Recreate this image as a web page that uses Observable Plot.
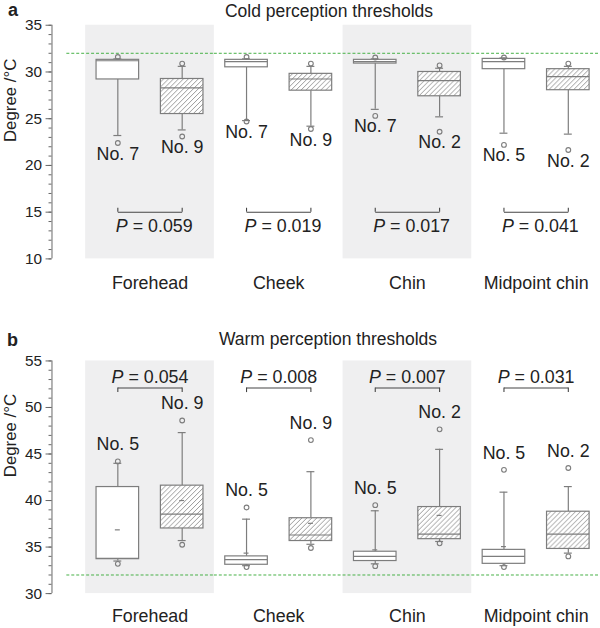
<!DOCTYPE html>
<html><head><meta charset="utf-8">
<script src="https://cdn.jsdelivr.net/npm/d3@7"></script>
<script src="https://cdn.jsdelivr.net/npm/@observablehq/plot@0.6"></script>
<style>
html,body{margin:0;padding:0;background:#fff;overflow:hidden}
#wrap{position:relative;width:600px;height:628px;overflow:hidden;font-family:'Liberation Sans',Arial,sans-serif;color:#222}
.pl{position:absolute;left:0}
.tag{position:absolute;font-weight:bold;font-size:18px;line-height:18px}
.ttl{position:absolute;font-size:17.5px;line-height:18px;width:600px;text-align:center}
</style></head><body>
<div id="wrap">
  <div id="pa" class="pl" style="top:0"></div>
  <div id="pb" class="pl" style="top:305px"></div>
  <div class="tag" style="left:8px;top:1px">a</div>
  <div class="ttl" style="left:29px;top:2px">Cold perception thresholds</div>
  <div class="tag" style="left:7px;top:331px">b</div>
  <div class="ttl" style="left:28px;top:330px">Warm perception thresholds</div>
</div>
<script>
// ---------- data ----------
const regions = ["Forehead", "Cheek", "Chin", "Midpoint chin"];
const groups = ["open", "hatched"];
const shadedRegions = ["Forehead", "Chin"];
const referenceTemp = 32;
const yLabel = "Degree /°C";

// order: Forehead open, Forehead hatched, Cheek open, Cheek hatched, Chin open, Chin hatched, Midpoint open, Midpoint hatched
const coldQ1 = [29.2, 25.5, 30.5, 28.0, 30.9, 27.4, 30.3, 28.05];
const coldMedian = [31.2, 28.3, 31.1, 29.25, 31.1, 29.07, 31.1, 29.5];
const coldQ3 = [31.3, 29.25, 31.3, 29.8, 31.3, 30.0, 31.4, 30.3];
const coldWhiskerLow = [23.2, 23.8, 24.8, 24.2, 26.0, 25.2, 23.45, 23.35];
const coldWhiskerHigh = [31.4, 30.6, 31.4, 30.6, 31.4, 30.4, 31.5, 30.6];
const coldOutlierLow = [22.4, 23.1, 24.7, 23.9, 25.3, 23.6, 22.2, 21.65];
const coldOutlierHigh = [31.6, 30.9, 31.6, 30.9, 31.55, 30.7, 31.55, 30.9];
const coldOutlierId = [7, 9, 7, 9, 7, 2, 5, 2];
const coldP = ["0.059", "0.019", "0.017", "0.041"];
const coldBracket = 15;

const warmQ1 = [33.7, 37.0, 33.1, 35.65, 33.5, 35.85, 33.2, 34.8];
const warmMedian = [33.8, 38.55, 33.65, 36.3, 34.0, 36.4, 34.0, 36.4];
const warmQ3 = [41.45, 41.6, 34.0, 38.1, 34.5, 39.3, 34.7, 38.8];
const warmMean = [36.85, 40.0, 34.35, 37.55, 34.7, 38.4, 35.05, null];
const warmWhiskerLow = [33.5, 35.7, 33.0, 35.3, 33.2, 35.6, 33.0, 34.35];
const warmWhiskerHigh = [44.0, 47.3, 38.0, 43.1, 38.9, 45.5, 40.9, 41.5];
const warmOutlierLow = [33.2, 35.25, 32.85, 34.9, 32.95, 35.4, 32.85, 34.0];
const warmOutlierHigh = [44.2, 48.6, 39.25, 46.5, 39.5, 47.65, 43.3, 43.5];
const warmOutlierId = [5, 9, 5, 9, 5, 2, 5, 2];
const warmP = ["0.054", "0.008", "0.007", "0.031"];
const warmBracket = 52.1;

// ---------- build tables ----------
function boxRows(q1, med, q3, wlo, whi, olo, ohi, ids, mean) {
  return regions.flatMap((r, i) => groups.map((g, j) => {
    const k = i * 2 + j;
    return {region: r, group: g, q1: q1[k], median: med[k], q3: q3[k], wlo: wlo[k], whi: whi[k],
            olo: olo[k], ohi: ohi[k], id: ids[k], mean: mean ? mean[k] : null};
  }));
}
const cold = boxRows(coldQ1, coldMedian, coldQ3, coldWhiskerLow, coldWhiskerHigh, coldOutlierLow, coldOutlierHigh, coldOutlierId, null);
const warm = boxRows(warmQ1, warmMedian, warmQ3, warmWhiskerLow, warmWhiskerHigh, warmOutlierLow, warmOutlierHigh, warmOutlierId, warmMean);
const coldPRows = regions.map((r, i) => ({region: r, p: coldP[i], y: coldBracket}));
const warmPRows = regions.map((r, i) => ({region: r, p: warmP[i], y: warmBracket}));

const GRAY = "#7d7d7d";
const INK = "#222";
const GREEN = "#45b045";

function panel(o) {
  const {data, pRows, yDomain, height, marginTop, marginBottom, hatchId, labelBelow, pBelow, fxPad, tickDir} = o;
  const open = data.filter(d => d.group === "open");
  const hat = data.filter(d => d.group === "hatched");
  const boxInset = 11, capInset = 28.5, meanInset = 30;
  const marks = [
    Plot.rect(shadedRegions, {fx: d => d, fill: "#efeff0"}),
    Plot.ruleY([referenceTemp], {fx: () => regions[0], y: d => d, stroke: GREEN, strokeWidth: 1, strokeDasharray: "3,2", insetLeft: -19}),
    Plot.ruleY(regions.slice(1), {fx: d => d, y: () => referenceTemp, stroke: GREEN, strokeWidth: 1, strokeDasharray: "3,2"}),
    // whiskers
    Plot.ruleX(data, {fx: "region", x: "group", y1: "q3", y2: "whi", stroke: GRAY, strokeWidth: 1.2}),
    Plot.ruleX(data, {fx: "region", x: "group", y1: "wlo", y2: "q1", stroke: GRAY, strokeWidth: 1.2}),
    Plot.tickY(data, {fx: "region", x: "group", y: "whi", stroke: GRAY, strokeWidth: 1.2, insetLeft: capInset, insetRight: capInset}),
    Plot.tickY(data, {fx: "region", x: "group", y: "wlo", stroke: GRAY, strokeWidth: 1.2, insetLeft: capInset, insetRight: capInset}),
    // boxes
    Plot.barY(open, {fx: "region", x: "group", y1: "q1", y2: "q3", fill: "white", stroke: GRAY, strokeWidth: 1.2, insetLeft: boxInset, insetRight: boxInset}),
    Plot.barY(hat, {fx: "region", x: "group", y1: "q1", y2: "q3", fill: `url(#${hatchId})`, stroke: GRAY, strokeWidth: 1.2, insetLeft: boxInset, insetRight: boxInset}),
    Plot.tickY(data, {fx: "region", x: "group", y: "median", stroke: GRAY, strokeWidth: 1.2, insetLeft: boxInset, insetRight: boxInset}),
    Plot.tickY(data.filter(d => d.mean != null), {fx: "region", x: "group", y: "mean", stroke: GRAY, strokeWidth: 1.2, insetLeft: meanInset, insetRight: meanInset}),
    // outliers
    Plot.dot(data, {fx: "region", x: "group", y: "olo", r: 2.4, stroke: GRAY, strokeWidth: 1.1, fill: "none"}),
    Plot.dot(data, {fx: "region", x: "group", y: "ohi", r: 2.4, stroke: GRAY, strokeWidth: 1.1, fill: "none"}),
    // outlier subject labels
    labelBelow
      ? Plot.text(data, {fx: "region", x: "group", y: "olo", text: d => "No. " + d.id, dy: 11, fontSize: 18, fill: INK})
      : Plot.text(data, {fx: "region", x: "group", y: "ohi", text: d => "No. " + d.id, dy: -17, fontSize: 18, fill: INK}),
    // brackets
    Plot.link(pRows, {fx: "region", x1: () => groups[0], x2: () => groups[1], y1: "y", y2: "y", stroke: "#444", strokeWidth: 1.1}),
    Plot.ruleX(pRows.flatMap(d => groups.map(g => ({...d, g}))), {fx: "region", x: "g", y1: "y", y2: d => d.y + tickDir, stroke: "#444", strokeWidth: 1.1}),
    // axes
    Plot.ruleX([regions[0]], {fx: d => d, x: () => groups[0], y1: () => yDomain[0], y2: () => yDomain[1], dx: -66.5, stroke: "#666", strokeWidth: 1}),
    Plot.axisY({ticks: d3.range(yDomain[0], yDomain[1] + 1, 1), tickSize: 3, tickFormat: () => "", dx: -34, stroke: "#666"}),
    Plot.axisY({ticks: d3.range(yDomain[0], yDomain[1] + 1, 5), tickSize: 6, tickPadding: 4, dx: -34, fontSize: 15.5, stroke: "#666", fill: INK, label: null}),
    Plot.text([yLabel], {fx: () => regions[0], frameAnchor: "left", rotate: -90, dx: -76, fontSize: 17, fill: INK}),
    Plot.axisFx({anchor: "bottom", tickSize: 0, tickPadding: fxPad, fontSize: 18, fill: INK, label: null})
  ];
  if (pBelow) {
    marks.push(Plot.text(pRows, {fx: "region", x: () => groups[0], y: "y", text: () => "P", fontStyle: "italic", textAnchor: "start", dx: -2, dy: 14, fontSize: 18, fill: INK}));
    marks.push(Plot.text(pRows, {fx: "region", x: () => groups[0], y: "y", text: d => "= " + d.p, textAnchor: "start", dx: 15, dy: 14, fontSize: 18, fill: INK}));
  } else {
    marks.push(Plot.text(pRows, {fx: "region", y: "y", text: () => "P", fontStyle: "italic", textAnchor: "start", dx: -38.8, dy: -11, fontSize: 18, fill: INK}));
    marks.push(Plot.text(pRows, {fx: "region", y: "y", text: d => "= " + d.p, textAnchor: "start", dx: -21.8, dy: -11, fontSize: 18, fill: INK}));
  }
  const svg = Plot.plot({
    width: 606, height, marginLeft: 86, marginRight: 0, marginTop, marginBottom,
    fx: {domain: regions, padding: 0, label: null},
    x: {domain: groups, padding: 0, axis: null},
    y: {domain: yDomain},
    style: {fontFamily: "'Liberation Sans', Arial, sans-serif", fontSize: "15px", color: INK, background: "transparent", overflow: "visible"},
    marks
  });
  const defs = d3.select(svg).insert("defs", ":first-child");
  const pat = defs.append("pattern").attr("id", hatchId).attr("patternUnits", "userSpaceOnUse").attr("width", 5).attr("height", 5);
  pat.append("rect").attr("width", 5).attr("height", 5).attr("fill", "white");
  pat.append("path").attr("d", "M-1,1 l2,-2 M0,5 l5,-5 M4,6 l2,-2").attr("stroke", GRAY).attr("stroke-width", 0.8);
  return svg;
}

document.getElementById("pa").append(panel({
  data: cold, pRows: coldPRows, yDomain: [10, 35], height: 305, marginTop: 25, marginBottom: 44,
  hatchId: "hatchA", labelBelow: true, pBelow: true, fxPad: 18, tickDir: 0.42
}));
document.getElementById("pb").append(panel({
  data: warm, pRows: warmPRows, yDomain: [30, 55], height: 323, marginTop: 56, marginBottom: 32,
  hatchId: "hatchB", labelBelow: false, pBelow: false, fxPad: 16, tickDir: -0.5
}));
</script>
</body></html>
